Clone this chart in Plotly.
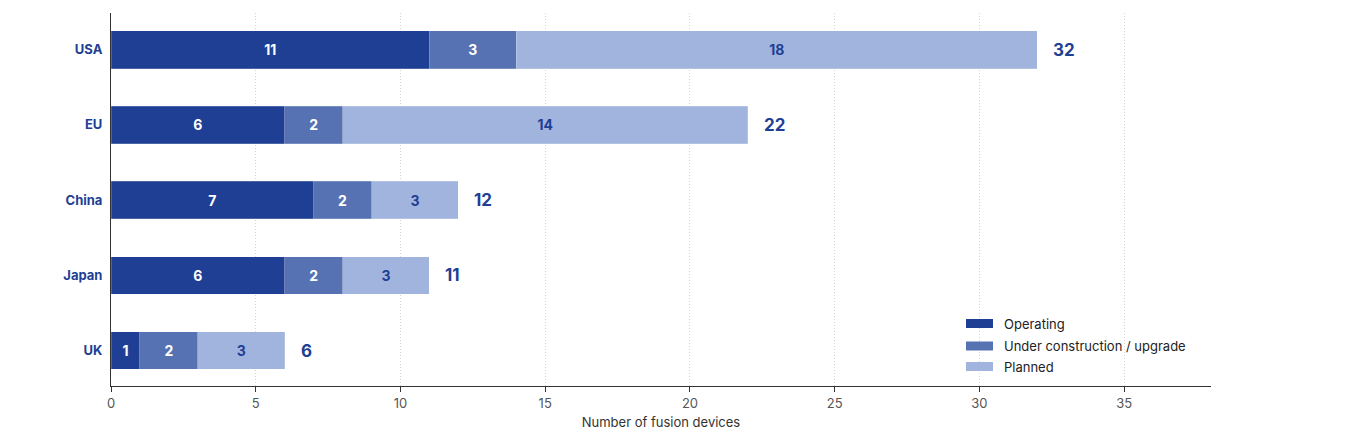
import plotly.graph_objects as go

categories = ["UK", "Japan", "China", "EU", "USA"]
operating = [1, 6, 7, 6, 11]
under_construction = [2, 2, 2, 2, 3]
planned = [3, 3, 3, 14, 18]
totals = [o + u + p for o, u, p in zip(operating, under_construction, planned)]
series_names = ["Operating", "Under construction / upgrade", "Planned"]
x_ticks = [0, 5, 10, 15, 20, 25, 30, 35]

colors = ["#1e3f94", "#5672b2", "#a1b4de"]
text_colors = ["#ffffff", "#ffffff", "#1e3f94"]
FONT = "Inter, Lato, sans-serif"

fig = go.Figure()
for name, vals, col, tcol in zip(series_names, [operating, under_construction, planned], colors, text_colors):
    fig.add_trace(go.Bar(
        y=categories, x=vals, name=name, orientation="h",
        marker=dict(color=col, line=dict(color="rgba(255,255,255,0.4)", width=0.5)),
        width=0.5,
        text=[str(v) for v in vals], textposition="inside", insidetextanchor="middle",
        textfont=dict(color=tcol, size=14, family=FONT, weight="bold"),
        textangle=0, constraintext="none",
        showlegend=False, hoverinfo="skip",
    ))

annotations = []
for c, t in zip(categories, totals):
    annotations.append(dict(x=t, y=c, xref="x", yref="y", text=f"<b>{t}</b>", showarrow=False,
                            xanchor="left", xshift=14,
                            font=dict(color="#1e3f94", size=17, family=FONT)))

# custom legend
shapes = []
leg_y = [323.5, 346, 366.5]
for name, col, yy in zip(series_names, colors, leg_y):
    yp = 1 - (yy - 13) / 373
    hp = 4.5 / 373
    shapes.append(dict(type="rect", xref="paper", yref="paper",
                       x0=(966 - 111) / 1100, x1=(993 - 111) / 1100,
                       y0=yp - hp, y1=yp + hp, fillcolor=col, line=dict(width=0)))
    annotations.append(dict(x=(1002 - 111) / 1100, y=yp, xref="paper", yref="paper", text=name,
                            showarrow=False, xanchor="left", yanchor="middle",
                            font=dict(color="#222222", size=13, family=FONT)))

fig.update_layout(
    barmode="stack",
    width=1364, height=442,
    margin=dict(l=111, r=153, t=13, b=56),
    plot_bgcolor="white", paper_bgcolor="white",
    font=dict(family=FONT),
    annotations=annotations, shapes=shapes,
    xaxis=dict(range=[0, 38], tickvals=x_ticks, showgrid=True, gridcolor="#d4d4d4",
               griddash="1px,2px", gridwidth=1, zeroline=False,
               showline=True, linecolor="#333333", linewidth=1,
               ticks="outside", ticklen=5, tickcolor="#333333",
               tickfont=dict(size=13, color="#555555", family=FONT),
               title=dict(text="Number of fusion devices", font=dict(size=13, color="#333333", family=FONT), standoff=8)),
    yaxis=dict(categoryorder="array", categoryarray=categories, range=[-0.472, 4.488],
               showline=True, linecolor="#333333", linewidth=1, showgrid=False, zeroline=False,
               ticks="", ticklabelstandoff=5,
               tickfont=dict(size=13, color="#1e3f94", family=FONT, weight="bold")),
)

fig.write_html("out.html")
